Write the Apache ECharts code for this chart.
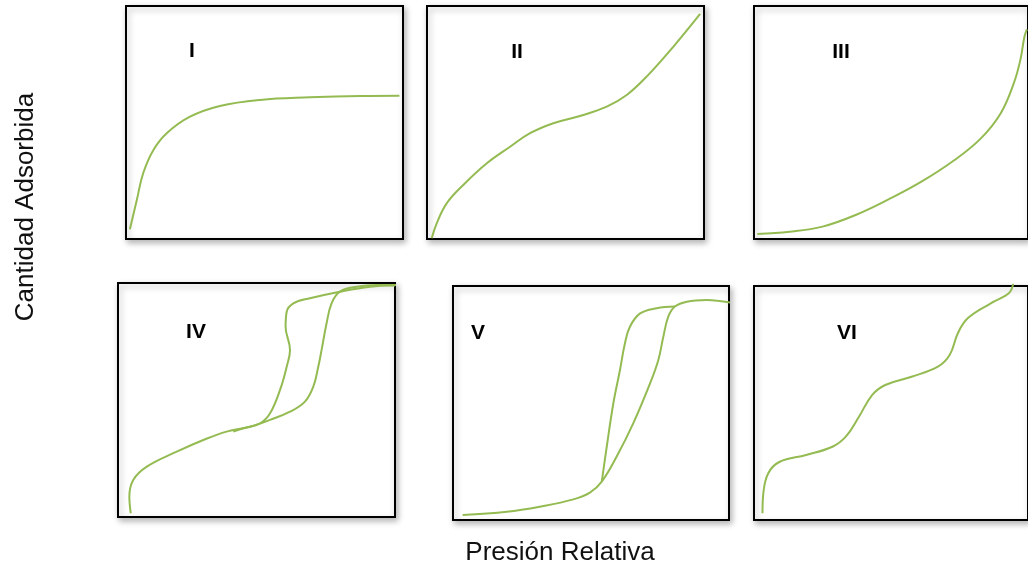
<!DOCTYPE html>
<html>
<head>
<meta charset="utf-8">
<script src="https://cdn.jsdelivr.net/npm/echarts@6/dist/echarts.min.js"></script>
<style>
html,body{margin:0;padding:0;background:#fff;}
#chart{width:1028px;height:569px;}
</style>
</head>
<body>
<div id="chart"></div>
<script>
// Etiquetas de los paneles
var panelLabels = ['I', 'II', 'III', 'IV', 'V', 'VI'];
var xTitle = 'Presión Relativa';
var yTitle = 'Cantidad Adsorbida';

// Datos [presión relativa, cantidad adsorbida] (normalizados 0-1)
var tipoI = [[0.014,0.042],[0.039,0.167],[0.062,0.282],[0.099,0.382],[0.147,0.454],[0.231,0.525],[0.339,0.571],[0.484,0.597],[0.664,0.608],[0.845,0.614],[0.987,0.615]];
var tipoII = [[0.017,0.003],[0.035,0.067],[0.071,0.153],[0.131,0.232],[0.216,0.325],[0.300,0.396],[0.372,0.454],[0.456,0.497],[0.552,0.528],[0.649,0.568],[0.721,0.618],[0.793,0.697],[0.889,0.825],[0.986,0.966]];
var tipoIII = [[0.012,0.021],[0.130,0.031],[0.250,0.053],[0.371,0.103],[0.491,0.170],[0.611,0.246],[0.732,0.339],[0.828,0.432],[0.900,0.539],[0.948,0.668],[0.972,0.768],[0.987,0.868],[0.996,0.900]];
var tipoIVads = [[0.046,0.016],[0.041,0.087],[0.055,0.158],[0.104,0.215],[0.212,0.279],[0.308,0.329],[0.392,0.365],[0.477,0.386],[0.549,0.415],[0.621,0.450],[0.675,0.493],[0.705,0.557],[0.723,0.642],[0.735,0.714],[0.753,0.828],[0.771,0.913],[0.801,0.963],[0.862,0.984],[0.934,0.991],[1.018,0.991]];
var tipoIVdes = [[1.000,0.989],[0.910,0.984],[0.801,0.963],[0.693,0.935],[0.633,0.913],[0.609,0.877],[0.605,0.813],[0.621,0.714],[0.609,0.642],[0.585,0.543],[0.549,0.443],[0.513,0.400],[0.452,0.379],[0.416,0.365]];
var tipoVads = [[0.035,0.021],[0.195,0.035],[0.315,0.057],[0.436,0.088],[0.496,0.117],[0.539,0.164],[0.593,0.271],[0.653,0.413],[0.714,0.584],[0.744,0.684],[0.762,0.783],[0.780,0.869],[0.804,0.912],[0.847,0.933],[0.919,0.940],[1.004,0.929]];
var tipoVdes = [[0.804,0.912],[0.738,0.905],[0.678,0.883],[0.641,0.826],[0.623,0.755],[0.605,0.641],[0.581,0.499],[0.557,0.313],[0.539,0.164]];
var tipoVI = [[0.031,0.029],[0.034,0.114],[0.052,0.200],[0.094,0.249],[0.190,0.278],[0.286,0.313],[0.335,0.356],[0.383,0.441],[0.431,0.534],[0.479,0.577],[0.575,0.612],[0.671,0.655],[0.714,0.705],[0.744,0.798],[0.780,0.862],[0.864,0.926],[0.930,0.969],[0.946,1.009]];

var panelSeries = [[tipoI],[tipoII],[tipoIII],[tipoIVads, tipoIVdes],[tipoVads, tipoVdes],[tipoVI]];

// Layout
var boxes = [
  {left:126, top:6,   width:277, height:233, lx:192, ly:51},
  {left:427, top:6,   width:277, height:233, lx:517, ly:52},
  {left:754, top:6,   width:277, height:233, lx:841, ly:52},
  {left:118, top:283, width:277, height:234, lx:196, ly:332},
  {left:453, top:286, width:276, height:234, lx:478, ly:333},
  {left:754, top:286, width:277, height:234, lx:847, ly:333}
];
var green = '#94bb52';
var font = "'Liberation Sans', Arial, sans-serif";

var grids = [], xAxes = [], yAxes = [], series = [], graphics = [];
boxes.forEach(function(b, i){
  grids.push({
    left:b.left, top:b.top, width:b.width, height:b.height,
    show:true, backgroundColor:'#fff', borderColor:'#000', borderWidth:2,
    shadowColor:'rgba(0,0,0,0.28)', shadowBlur:6, shadowOffsetX:2, shadowOffsetY:3
  });
  xAxes.push({type:'value', gridIndex:i, min:0, max:1, show:false});
  yAxes.push({type:'value', gridIndex:i, min:0, max:1, show:false});
  panelSeries[i].forEach(function(d){
    series.push({
      type:'line', xAxisIndex:i, yAxisIndex:i, data:d, smooth:0.4,
      showSymbol:false, clip:false, silent:true,
      lineStyle:{color:green, width:2}
    });
  });
  graphics.push({
    type:'text', x:b.lx, y:b.ly, z:100,
    style:{text:panelLabels[i], font:'bold 21px ' + font, fill:'#000', align:'center', verticalAlign:'middle'}
  });
});
graphics.push({
  type:'text', x:560, y:553, z:100,
  style:{text:xTitle, font:'26px ' + font, fill:'#111', align:'center', verticalAlign:'middle'}
});
graphics.push({
  type:'text', x:26, y:207, rotation:Math.PI/2, z:100,
  style:{text:yTitle, font:'26px ' + font, fill:'#111', align:'center', verticalAlign:'middle'}
});

var chart = echarts.init(document.getElementById('chart'), null, {renderer:'canvas'});
chart.setOption({
  backgroundColor:'#fff',
  animation:false,
  grid:grids, xAxis:xAxes, yAxis:yAxes, series:series, graphic:graphics
});
</script>
</body>
</html>
